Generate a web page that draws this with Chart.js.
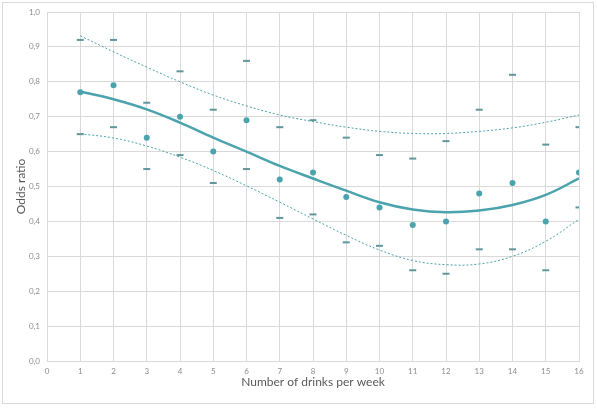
<!DOCTYPE html>
<html>
<head>
<meta charset="utf-8">
<script src="https://cdn.jsdelivr.net/npm/chart.js@4/dist/chart.umd.min.js"></script>
<style>
  html, body { margin: 0; padding: 0; background: #ffffff; }
  #wrap { width: 597px; height: 410px; position: relative; }
</style>
</head>
<body>
<div id="wrap"><canvas id="c" width="597" height="410"></canvas></div>
<script>
// ---- data ----
const drinksPerWeek = [1, 2, 3, 4, 5, 6, 7, 8, 9, 10, 11, 12, 13, 14, 15, 16];
const oddsRatio     = [0.77, 0.79, 0.64, 0.70, 0.60, 0.69, 0.52, 0.54, 0.47, 0.44, 0.39, 0.40, 0.48, 0.51, 0.40, 0.54];
const upperCI       = [0.92, 0.92, 0.74, 0.83, 0.72, 0.86, 0.67, 0.69, 0.64, 0.59, 0.58, 0.63, 0.72, 0.82, 0.62, 0.67];
const lowerCI       = [0.65, 0.67, 0.55, 0.59, 0.51, 0.55, 0.41, 0.42, 0.34, 0.33, 0.26, 0.25, 0.32, 0.32, 0.26, 0.44];
// trend lines (at each x)
const trendOR       = [0.772, 0.750, 0.721, 0.683, 0.640, 0.600, 0.559, 0.523, 0.488, 0.455, 0.434, 0.426, 0.431, 0.447, 0.476, 0.523];
const trendUpper    = [0.932, 0.886, 0.842, 0.800, 0.762, 0.731, 0.705, 0.686, 0.670, 0.658, 0.652, 0.652, 0.658, 0.668, 0.684, 0.705];
const trendLower    = [0.651, 0.639, 0.616, 0.584, 0.546, 0.502, 0.455, 0.407, 0.360, 0.318, 0.288, 0.276, 0.278, 0.300, 0.343, 0.406];
const xTickValues   = [0, 1, 2, 3, 4, 5, 6, 7, 8, 9, 10, 11, 12, 13, 14, 15, 16];
const yTickValues   = [0, 0.1, 0.2, 0.3, 0.4, 0.5, 0.6, 0.7, 0.8, 0.9, 1.0];
const xTitle = 'Number of drinks per week';
const yTitle = 'Odds ratio';

const pts = (ys) => drinksPerWeek.map((x, i) => ({ x: x, y: ys[i] }));

const teal = 'rgb(74,163,173)';
const dashColor = 'rgb(96,150,156)';

const borderPlugin = {
  id: 'frame',
  beforeDraw(chart) {
    const ctx = chart.ctx;
    ctx.save();
    ctx.fillStyle = '#ffffff';
    ctx.fillRect(0, 0, chart.width, chart.height);
    ctx.strokeStyle = '#d9d9d9';
    ctx.lineWidth = 1;
    ctx.strokeRect(2.5, 2.5, 591, 401);
    ctx.restore();
  }
};

new Chart(document.getElementById('c'), {
  type: 'line',
  data: {
    datasets: [
      { label: 'Trend upper', data: pts(trendUpper), borderColor: teal, borderWidth: 1, borderDash: [2, 2],
        pointRadius: 0, tension: 0.4, fill: false, order: 5 },
      { label: 'Trend lower', data: pts(trendLower), borderColor: teal, borderWidth: 1, borderDash: [2, 2],
        pointRadius: 0, tension: 0.4, fill: false, order: 5 },
      { label: 'Trend OR', data: pts(trendOR), borderColor: teal, borderWidth: 2.5,
        pointRadius: 0, tension: 0.4, fill: false, order: 4 },
      { label: 'Upper CI', data: pts(upperCI), showLine: false, pointStyle: 'line', pointRadius: 3.5,
        pointBorderWidth: 2, pointBorderColor: dashColor, pointBackgroundColor: dashColor, order: 2 },
      { label: 'Lower CI', data: pts(lowerCI), showLine: false, pointStyle: 'line', pointRadius: 3.5,
        pointBorderWidth: 2, pointBorderColor: dashColor, pointBackgroundColor: dashColor, order: 2 },
      { label: 'Odds ratio', data: pts(oddsRatio), showLine: false, pointStyle: 'circle', pointRadius: 3,
        pointBorderWidth: 0, pointBackgroundColor: teal, pointBorderColor: teal, order: 1 }
    ]
  },
  options: {
    responsive: false,
    animation: false,
    devicePixelRatio: 1,
    layout: { padding: { top: 12, right: 18, left: 0, bottom: 0 } },
    plugins: { legend: { display: false }, tooltip: { enabled: false } },
    scales: {
      x: {
        type: 'linear', min: 0, max: 16,
        afterBuildTicks(scale) { scale.ticks = xTickValues.map(v => ({ value: v })); },
        afterFit(scale) { scale.height = 49; },
        grid: { color: '#d9d9d9', drawTicks: false, lineWidth: 1 },
        border: { color: '#d9d9d9' },
        ticks: { padding: 6, color: '#8c8c8c', font: { family: 'Lato', size: 8 }, callback: v => String(v) },
        title: { display: true, text: xTitle, color: '#595959', font: { family: 'Lato', size: 12 }, padding: { top: 0, bottom: 21 } }
      },
      y: {
        type: 'linear', min: 0, max: 1,
        afterBuildTicks(scale) { scale.ticks = yTickValues.map(v => ({ value: v })); },
        afterFit(scale) { scale.width = 47; },
        grid: { color: '#d9d9d9', drawTicks: false, lineWidth: 1 },
        border: { color: '#d9d9d9' },
        ticks: { padding: 7, color: '#8c8c8c', font: { family: 'Lato', size: 8 },
                 callback: v => v.toFixed(1).replace('.', ',') },
        title: { display: true, text: yTitle, color: '#595959', font: { family: 'Lato', size: 12 }, padding: { top: 14, bottom: 0 } }
      }
    }
  },
  plugins: [borderPlugin]
});
</script>
</body>
</html>
